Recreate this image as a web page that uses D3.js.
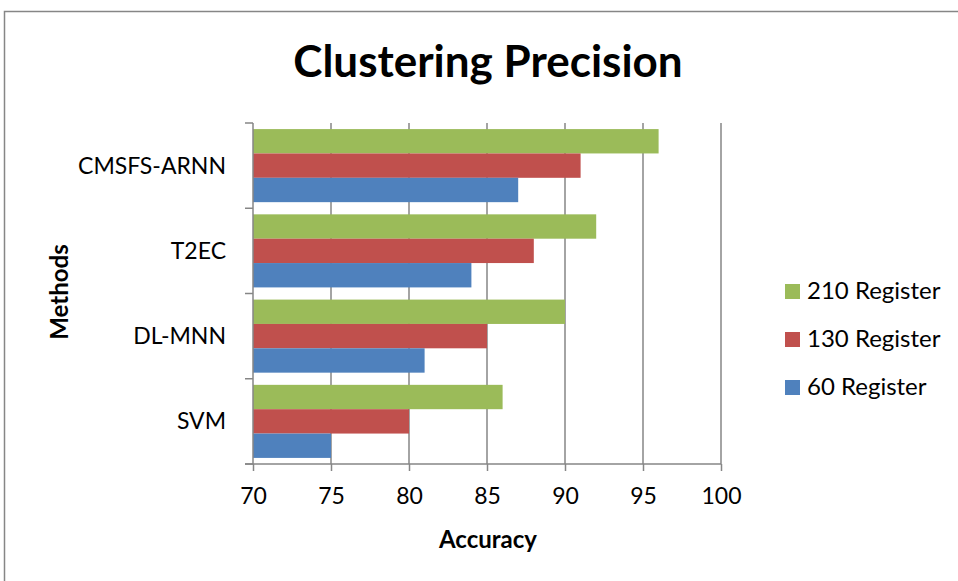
<!DOCTYPE html>
<html>
<head>
<meta charset="utf-8">
<script src="https://cdn.jsdelivr.net/npm/d3@7"></script>
<style>
  body { margin: 0; background: #fff; }
  text { font-family: Lato, "Open Sans", sans-serif; fill: #000; }
</style>
</head>
<body>
<script>
// data
var methods = ["CMSFS-ARNN", "T2EC", "DL-MNN", "SVM"];
var series = ["210 Register", "130 Register", "60 Register"];
var colors = ["#9bbb59", "#c0504d", "#4f81bd"];
var v210 = [96, 92, 90, 86];
var v130 = [91, 88, 85, 80];
var v60 = [87, 84, 81, 75];
var xTicks = [70, 75, 80, 85, 90, 95, 100];

var values = [v210, v130, v60];
var width = 958, height = 581;

var svg = d3.select("body").append("svg")
    .attr("width", width)
    .attr("height", height);

// ram runt diagrammet
svg.append("rect")
    .attr("x", 4.5).attr("y", 11.5)
    .attr("width", 980).attr("height", 600)
    .attr("fill", "none")
    .attr("stroke", "#868686")
    .attr("stroke-width", 1.5);

var plotLeft = 253, plotRight = 721, plotTop = 123, plotBottom = 464;

var xScale = d3.scaleLinear().domain([70, 100]).range([plotLeft, plotRight]);
var yScale = d3.scaleBand().domain(methods).range([plotTop, plotBottom]).paddingInner(0).paddingOuter(0);
var inner = d3.scaleBand().domain(series).range([0, yScale.bandwidth()]).paddingInner(0).paddingOuter(0.25);

// stödlinjer
svg.append("g").selectAll("line").data(xTicks.slice(1))
    .enter().append("line")
    .attr("x1", function(d) { return xScale(d); })
    .attr("x2", function(d) { return xScale(d); })
    .attr("y1", plotTop).attr("y2", plotBottom)
    .attr("stroke", "#868686").attr("stroke-width", 1.5);

// staplar
var groups = svg.append("g").selectAll("g").data(methods)
    .enter().append("g")
    .attr("transform", function(d) { return "translate(0," + yScale(d) + ")"; });

groups.selectAll("rect")
    .data(function(d, i) { return series.map(function(s, j) { return { s: s, v: values[j][i], c: colors[j] }; }); })
    .enter().append("rect")
    .attr("x", xScale(70))
    .attr("y", function(d) { return inner(d.s); })
    .attr("width", function(d) { return xScale(d.v) - xScale(70); })
    .attr("height", inner.bandwidth())
    .attr("fill", function(d) { return d.c; });

// x-axel
var xAxis = d3.axisBottom(xScale).tickValues(xTicks).tickSize(7).tickPadding(15);
var gx = svg.append("g").attr("transform", "translate(0," + plotBottom + ")").call(xAxis);
gx.select(".domain").attr("d", "M" + (plotLeft - 8) + ",0H" + plotRight).attr("stroke", "#868686").attr("stroke-width", 1.5);
gx.selectAll(".tick line").attr("stroke", "#868686").attr("stroke-width", 1.5);
gx.selectAll(".tick text").style("font-size", "23px").style("font-family", "Lato").attr("dy", "0.8em");

// y-axel
var yTickPos = methods.map(function(d) { return yScale(d); }).concat([plotBottom]);
var gy = svg.append("g");
gy.append("line")
    .attr("x1", plotLeft).attr("x2", plotLeft).attr("y1", plotTop).attr("y2", plotBottom)
    .attr("stroke", "#868686").attr("stroke-width", 1.5);
gy.selectAll(".yt").data(yTickPos).enter().append("line")
    .attr("x1", plotLeft - 8).attr("x2", plotLeft)
    .attr("y1", function(d) { return d; }).attr("y2", function(d) { return d; })
    .attr("stroke", "#868686").attr("stroke-width", 1.5);
gy.selectAll("text").data(methods).enter().append("text")
    .attr("x", 226)
    .attr("y", function(d) { return yScale(d) + yScale.bandwidth() / 2; })
    .attr("dy", "0.35em")
    .attr("text-anchor", "end")
    .style("font-size", "23px")
    .text(function(d) { return d; });

// rubriker
svg.append("text").attr("x", 488).attr("y", 77)
    .attr("text-anchor", "middle")
    .style("font-size", "44px").style("font-weight", "bold")
    .text("Clustering Precision");

svg.append("text").attr("x", 488).attr("y", 548)
    .attr("text-anchor", "middle")
    .style("font-size", "24px").style("font-weight", "bold")
    .text("Accuracy");

svg.append("text")
    .attr("transform", "translate(68,292) rotate(-90)")
    .attr("text-anchor", "middle")
    .style("font-size", "24px").style("font-weight", "bold")
    .text("Methods");

// förklaring
var legend = svg.append("g").selectAll("g").data(series)
    .enter().append("g")
    .attr("transform", function(d, i) { return "translate(785," + (291 + i * 48) + ")"; });
legend.append("rect")
    .attr("x", 0).attr("y", -7).attr("width", 15).attr("height", 15)
    .attr("fill", function(d, i) { return colors[i]; });
legend.append("text")
    .attr("x", 22).attr("y", 0).attr("dy", "0.35em")
    .style("font-size", "24px")
    .text(function(d) { return d; });
</script>
</body>
</html>
